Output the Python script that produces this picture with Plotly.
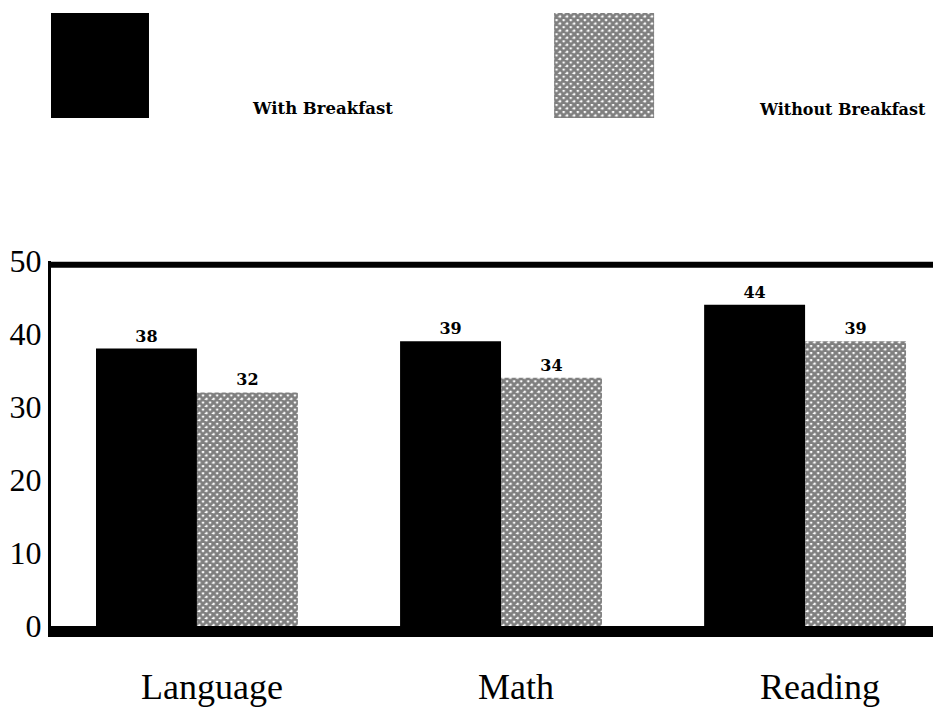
import plotly.graph_objects as go

# data
subjects = ['Language', 'Math', 'Reading']
with_breakfast = [38, 39, 44]
without_breakfast = [32, 34, 39]
series_names = ['With Breakfast', 'Without Breakfast']
y_ticks = [0, 10, 20, 30, 40, 50]

serif = 'Liberation Serif'
label_font = 'DejaVu Serif'

hatch = dict(shape='x', fgcolor='black', bgcolor='white', size=5, solidity=0.8)

fig = go.Figure()

# main bars
fig.add_trace(go.Bar(
    x=subjects, y=with_breakfast,
    name=series_names[0],
    marker=dict(color='black', line=dict(width=0)),
    text=with_breakfast, textposition='outside',
    texttemplate='<b>%{text}</b>',
    textfont=dict(family=label_font, size=16, color='black'),
    cliponaxis=False,
))
fig.add_trace(go.Bar(
    x=subjects, y=without_breakfast,
    name=series_names[1],
    marker=dict(color='white', pattern=hatch, line=dict(width=0)),
    text=without_breakfast, textposition='outside',
    texttemplate='<b>%{text}</b>',
    textfont=dict(family=label_font, size=16, color='black'),
    cliponaxis=False,
))

# big legend swatches drawn as bars on a hidden axis pair
fig.add_trace(go.Bar(
    x=[0], y=[1], width=[0.198], xaxis='x2', yaxis='y2',
    marker=dict(color='black', line=dict(width=0)),
    showlegend=False, hoverinfo='skip',
))
fig.add_trace(go.Bar(
    x=[1], y=[1], width=[0.198], xaxis='x2', yaxis='y2',
    marker=dict(color='white', pattern=hatch, line=dict(width=0)),
    showlegend=False, hoverinfo='skip',
))

# page body adds an 8px offset, so the figure is a bit smaller than the window
fig.update_layout(
    width=933, height=710,
    margin=dict(l=43, r=0, t=0, b=92),
    paper_bgcolor='white',
    plot_bgcolor='white',
    showlegend=False,
    barmode='group',
    bargap=0.336,
    bargroupgap=0,
    xaxis=dict(
        range=[-0.48, 2.447],
        showline=True, linecolor='black', linewidth=11,
        showgrid=False, zeroline=False, ticks='',
        tickfont=dict(family=serif, size=36, color='black'),
        ticklabelstandoff=19,
        ticklabelshift=15,
        automargin=False,
        anchor='y',
    ),
    yaxis=dict(
        domain=[0, 0.5906],
        range=[0, 50],
        tickvals=y_ticks,
        showline=True, linecolor='black', linewidth=3,
        showgrid=False, zeroline=False, ticks='',
        tickfont=dict(family=serif, size=32, color='black'),
        automargin=False,
        anchor='x',
    ),
    xaxis2=dict(
        range=[-0.095, 1.667], anchor='y2', visible=False,
    ),
    yaxis2=dict(
        domain=[0.822, 0.992], range=[0, 1], anchor='x2', visible=False,
    ),
    shapes=[
        # heavy top frame line
        dict(type='line', xref='paper', yref='y domain', x0=0, x1=1, y0=0.99, y1=0.99,
             line=dict(color='black', width=6)),
    ],
    annotations=[
        dict(text='<b>With Breakfast</b>', xref='paper', yref='paper',
             x=0.2236, y=0.838, xanchor='left', yanchor='middle', showarrow=False,
             font=dict(family=label_font, size=16.5, color='black')),
        dict(text='<b>Without Breakfast</b>', xref='paper', yref='paper',
             x=0.793, y=0.835, xanchor='left', yanchor='middle', showarrow=False,
             font=dict(family=label_font, size=16, color='black')),
    ],
)

fig.write_html('out.html')
